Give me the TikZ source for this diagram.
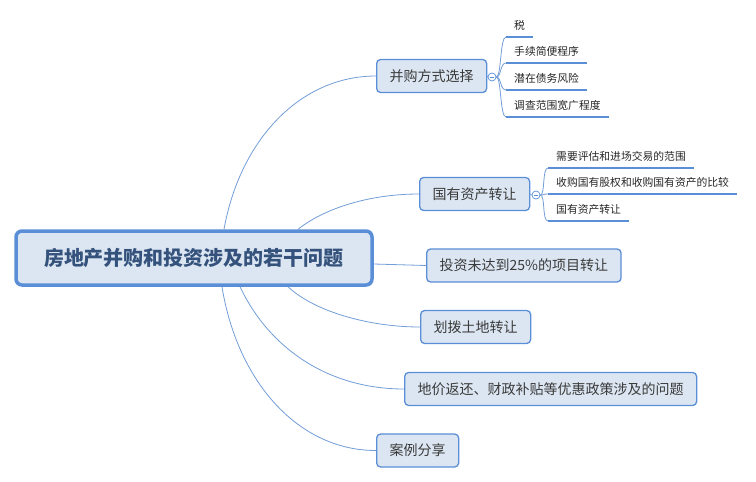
\documentclass[tikz,border=0pt]{standalone}
\usepackage{fontspec}
\setmainfont{Noto Sans CJK SC}
\usepackage{tikz}

\definecolor{boxfill}{HTML}{DCE6F2}
\definecolor{boxline}{HTML}{5A8ED6}
\definecolor{linkline}{HTML}{729DD6}
\definecolor{roottext}{HTML}{34527C}
\definecolor{topictext}{HTML}{3A3A3A}

\tikzset{
  root/.style={rectangle, rounded corners=6pt, draw=boxline, line width=3.5pt, fill=boxfill,
    minimum width=356pt, minimum height=54pt, font=\fontsize{20}{24}\selectfont\bfseries, text=roottext},
  topic/.style={rectangle, rounded corners=4pt, draw=boxline, line width=1.3pt, fill=boxfill,
    minimum height=33pt, inner xsep=13pt, font=\fontsize{14}{16}\selectfont, text=topictext, anchor=west},
  leaf/.style={anchor=south west, inner xsep=8pt, inner ysep=5pt, text height=9pt, text depth=2pt,
    font=\fontsize{10.8}{12}\selectfont, text=black!85},
  leafline/.style={draw=boxline, line width=1.8pt},
  link/.style={draw=linkline, line width=0.8pt},
  fold/.style={circle, draw=boxline, fill=white, line width=0.7pt, minimum size=8pt, inner sep=0pt,
    path picture={\draw[boxline, line width=0.6pt] ([xshift=-2.2pt]path picture bounding box.center) -- ([xshift=2.2pt]path picture bounding box.center);}}
}

\begin{document}
\begin{tikzpicture}[x=1pt,y=-1pt]
        \useasboundingbox (0,0) rectangle (756,482);

        % Central topic
        \node[root] (root) at (194,258) {房地产并购和投资涉及的若干问题};

        % Main branches
        \node[topic] (b1) at (376,76) {并购方式选择};
        \node[topic] (b2) at (419,194) {国有资产转让};
        \node[topic] (b3) at (426,265.5) {投资未达到25\%的项目转让};
        \node[topic] (b4) at (420,327) {划拨土地转让};
        \node[topic] (b5) at (404,389) {地价返还、财政补贴等优惠政策涉及的问题};
        \node[topic] (b6) at (376,450.5) {案例分享};

        % Fold markers
        \node[fold] (f1) at (492,77) {};
        \node[fold] (f2) at (536,195) {};

        % Sub topics
        \node[leaf] (l1a) at (506,37) {税};
        \node[leaf] (l1b) at (506,63) {手续简便程序};
        \node[leaf] (l1c) at (506,90) {潜在债务风险};
        \node[leaf] (l1d) at (506,117) {调查范围宽广程度};

        \node[leaf] (l2a) at (548,168) {需要评估和进场交易的范围};
        \node[leaf] (l2b) at (548,194) {收购国有股权和收购国有资产的比较};
        \node[leaf] (l2c) at (548,221) {国有资产转让};

        % Underlines of sub topics
        \draw[leafline] (l1a.south west) -- (l1a.south east);
        \draw[leafline] (l1b.south west) -- (l1b.south east);
        \draw[leafline] (l1c.south west) -- (l1c.south east);
        \draw[leafline] (l1d.south west) -- (l1d.south east);
        \draw[leafline] (l2a.south west) -- (l2a.south east);
        \draw[leafline] (l2b.south west) -- (l2b.south east);
        \draw[leafline] (l2c.south west) -- (l2c.south east);

        % Links from the central topic
        \draw[link] ([xshift=30pt]root.north) .. controls (240,140) and (300,76) .. (b1.west);
        \draw[link] ([xshift=104pt]root.north) .. controls (325,208) and (370,194) .. (b2.west);
        \draw[link] ([yshift=-6pt]root.east) .. controls (400,264) and (400,265.5) .. (b3.west);
        \draw[link] ([xshift=94pt]root.south) .. controls (315,312) and (370,327) .. (b4.west);
        \draw[link] ([xshift=46pt]root.south) .. controls (270,350) and (330,389) .. (b5.west);
        \draw[link] ([xshift=28pt]root.south) .. controls (237,380) and (297,450.5) .. (b6.west);

        % Links to the sub topics
        \draw[link] (b1.east) -- (f1.west);
        \draw[link] (b2.east) -- (f2.west);
        \draw[link] (f1.east) .. controls +(5,0) and +(-6,0) .. (l1a.south west);
        \draw[link] (f1.east) .. controls +(5,0) and +(-6,0) .. (l1b.south west);
        \draw[link] (f1.east) .. controls +(5,0) and +(-6,0) .. (l1c.south west);
        \draw[link] (f1.east) .. controls +(5,0) and +(-6,0) .. (l1d.south west);
        \draw[link] (f2.east) .. controls +(5,0) and +(-6,0) .. (l2a.south west);
        \draw[link] (f2.east) .. controls +(5,0) and +(-6,0) .. (l2b.south west);
        \draw[link] (f2.east) .. controls +(5,0) and +(-6,0) .. (l2c.south west);

    \end{tikzpicture}
\end{document}
